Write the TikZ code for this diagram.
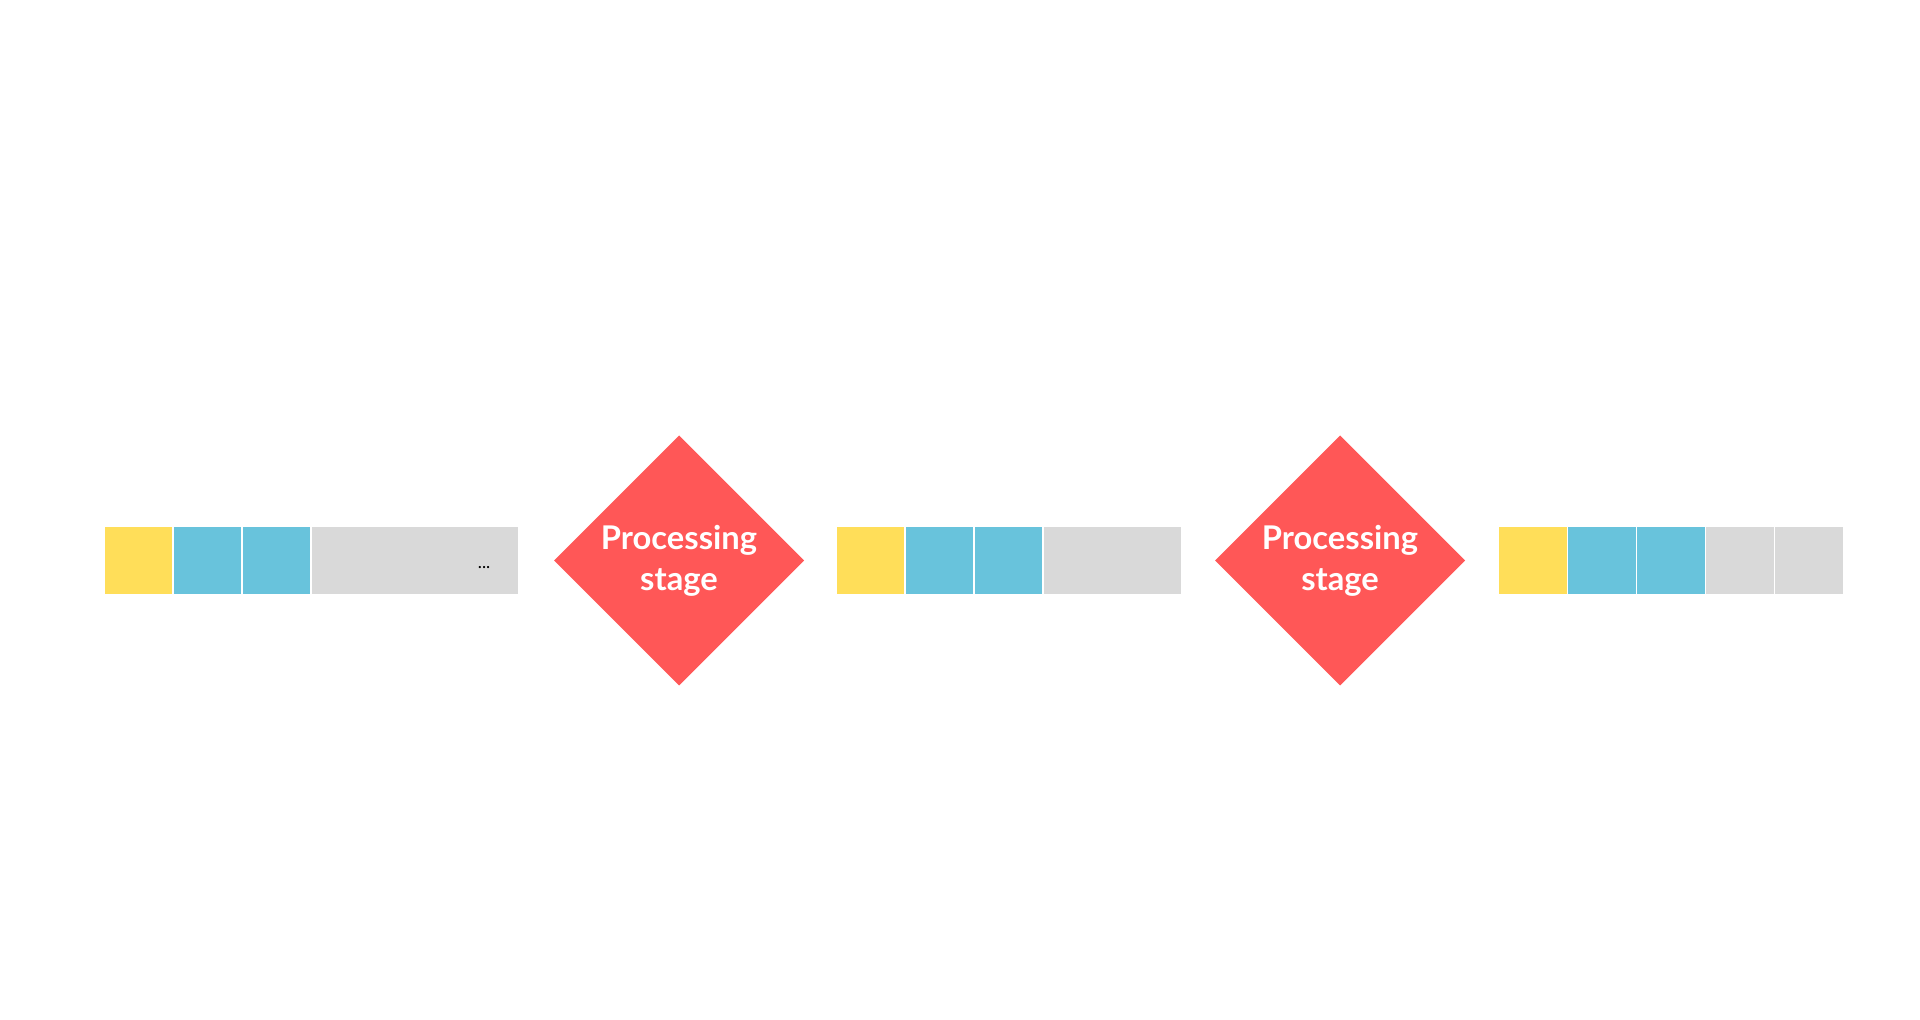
\documentclass[tikz,border=0pt]{standalone}
\usepackage{fontspec}
\setmainfont{Lato}
\usepackage{tikz}
\usetikzlibrary{positioning, shapes.geometric}
\definecolor{tokyellow}{HTML}{FFDE59}
\definecolor{tokblue}{HTML}{68C3DC}
\definecolor{tokgray}{HTML}{D9D9D9}
\definecolor{stagered}{HTML}{FF5757}
\tikzstyle{cell} = [rectangle, minimum width=0.69cm, minimum height=0.69cm,
                    inner sep=0pt, outer sep=0pt, draw=white, line width=0.3pt]
\tikzstyle{ycell} = [cell, fill=tokyellow]
\tikzstyle{bcell} = [cell, fill=tokblue]
\tikzstyle{gcell} = [cell, fill=tokgray]
\tikzstyle{stage} = [diamond, aspect=1, minimum width=2.5cm, minimum height=2.5cm,
                     inner sep=0pt, outer sep=0pt, fill=stagered, text=white, align=center,
                     font=\bfseries\fontsize{9.3}{11.6}\selectfont]

\begin{document}
\begin{tikzpicture}
\useasboundingbox (0,0) rectangle (19.2,-10.2);
% first sequence
\node (a1) [ycell] at (1.385,-5.605) {};
\node (a2) [bcell, right=0cm of a1] {};
\node (a3) [bcell, right=0cm of a2] {};
\node (a4) [gcell, right=0cm of a3, minimum width=2.08cm] {};
\node (dots) [left=0.28cm of a4.east, yshift=-0.07cm, inner sep=0pt, font=\tiny] {...};
\node (s1) [stage, right=0.35cm of a4] {Processing\\stage};
% second sequence
\node (b1) [ycell, right=0.32cm of s1] {};
\node (b2) [bcell, right=0cm of b1] {};
\node (b3) [bcell, right=0cm of b2] {};
\node (b4) [gcell, right=0cm of b3, minimum width=1.39cm] {};
\node (s2) [stage, right=0.33cm of b4] {Processing\\stage};
% third sequence
\node (c1) [ycell, right=0.33cm of s2] {};
\node (c2) [bcell, right=0cm of c1] {};
\node (c3) [bcell, right=0cm of c2] {};
\node (c4) [gcell, right=0cm of c3] {};
\node (c5) [gcell, right=0cm of c4] {};
\end{tikzpicture}
\end{document}
